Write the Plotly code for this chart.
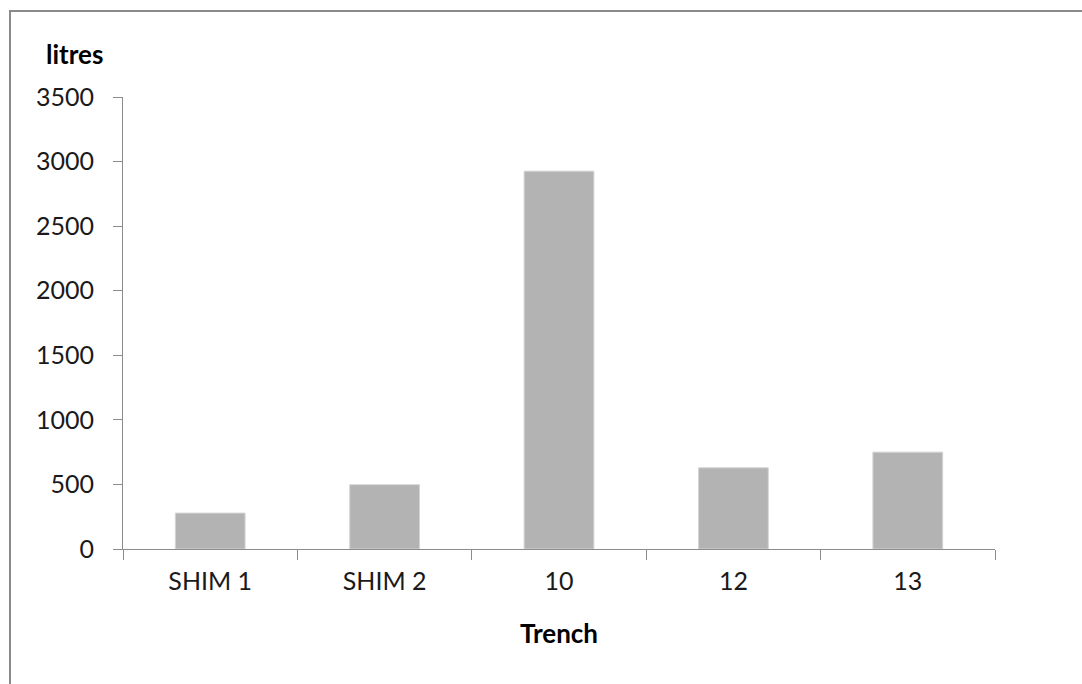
import plotly.graph_objects as go

# Trench volumes
trenches = ["SHIM 1", "SHIM 2", "10", "12", "13"]
litres = [278, 498, 2926, 629, 750]

W, H = 1082, 684
L, R, T, B = 123, 87, 97, 135
pw, ph = W - L - R, H - T - B


def px_x(x):
    return (x - L) / pw


def px_y(y):
    return (H - B - y) / ph


font = "Lato"
axis_col = "#8c8c8c"

fig = go.Figure(
    go.Bar(
        x=trenches,
        y=litres,
        marker=dict(color="#b3b3b3", line=dict(color="#d4d4d4", width=1)),
        width=0.4,
    )
)

fig.update_layout(
    width=W,
    height=H,
    margin=dict(l=L, r=R, t=T, b=B),
    paper_bgcolor="white",
    plot_bgcolor="white",
    showlegend=False,
    font=dict(family=font, size=25, color="#1a1a1a"),
)

fig.update_xaxes(
    showline=True,
    linecolor=axis_col,
    linewidth=1,
    ticks="outside",
    tickson="boundaries",
    ticklen=10,
    tickcolor=axis_col,
    showgrid=False,
    ticklabelstandoff=10,
    tickfont=dict(family=font, size=25, color="#1a1a1a"),
    title=dict(text="<b>Trench</b>", font=dict(family=font, size=26, color="#000"), standoff=30),
)

fig.update_yaxes(
    range=[0, 3500],
    dtick=500,
    showline=True,
    linecolor=axis_col,
    linewidth=1,
    ticks="outside",
    ticklen=9,
    tickcolor=axis_col,
    showgrid=False,
    zeroline=False,
    ticklabelstandoff=14,
    tickfont=dict(family=font, size=25, color="#1a1a1a"),
)

# axis title above the value axis
fig.add_annotation(
    text="<b>litres</b>",
    xref="paper",
    yref="paper",
    x=px_x(44),
    y=px_y(54),
    xanchor="left",
    yanchor="middle",
    showarrow=False,
    font=dict(family=font, size=26, color="#000"),
)

# outer frame (left and top edges)
fig.add_shape(
    type="line", xref="paper", yref="paper",
    x0=px_x(10), y0=px_y(11), x1=px_x(10), y1=px_y(H + 5),
    line=dict(color="#8a8a8a", width=2),
)
fig.add_shape(
    type="line", xref="paper", yref="paper",
    x0=px_x(9), y0=px_y(11), x1=px_x(W + 5), y1=px_y(11),
    line=dict(color="#8a8a8a", width=2),
)

fig.write_html("out.html")
